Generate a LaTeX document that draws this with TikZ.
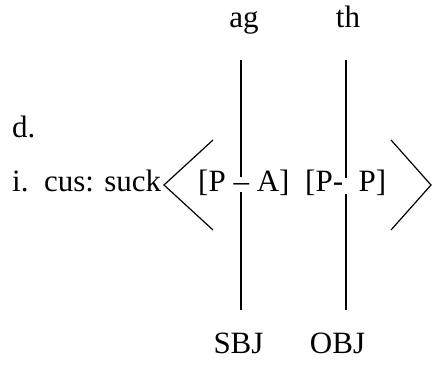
\documentclass[tikz,border=0pt]{standalone}
\usepackage{fontspec}
\setmainfont{Liberation Serif}
\usetikzlibrary{positioning}
\tikzset{
    gloss/.style={inner sep=0pt, font=\fontsize{31}{37}\selectfont},
    link/.style={line width=1.2pt},
}

\begin{document}
\begin{tikzpicture}[x=1pt, y=1pt]
    \useasboundingbox (0,0) rectangle (433,364);

    \node[gloss, anchor=base west] (ex) at (12,226) {d.};
    \node[gloss, anchor=base west] (verb) at (12,172) {i.\ \ cus: suck};
    \node[gloss, anchor=base west] (PA) at (198,172) {[P -- A]};
    \node[gloss, anchor=base west] (PP) at (305,172) {[P-\ \ P]};

    \node[gloss, anchor=base] (ag) at (244,336) {ag};
    \node[gloss, anchor=base] (th) at (348,336) {th};
    \node[gloss, anchor=base] (sbj) at (238.5,11) {SBJ};
    \node[gloss, anchor=base] (obj) at (337.5,11) {OBJ};

    % line ends
    \coordinate (agfoot) at (241,304);
    \coordinate (PAtop) at (241,187);
    \coordinate (PAbot) at (241,172);
    \coordinate (sbjtop) at (241,54);
    \coordinate (thfoot) at (346,304);
    \coordinate (PPtop) at (346,186);
    \coordinate (PPbot) at (346,170);
    \coordinate (objtop) at (346,54);

    \draw[link] (agfoot) -- (PAtop);
    \draw[link] (PAbot) -- (sbjtop);
    \draw[link] (thfoot) -- (PPtop);
    \draw[link] (PPbot) -- (objtop);

    % angle brackets
    \draw[link] (213,224) -- (164,179) -- (213,134);
    \draw[link] (391,224) -- (431,179) -- (391,134);
\end{tikzpicture}
\end{document}
